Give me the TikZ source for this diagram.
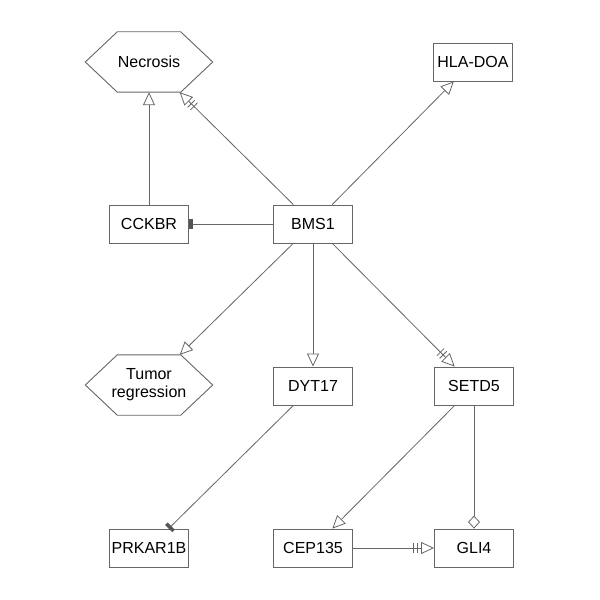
\documentclass[tikz,border=0pt]{standalone}
\usepackage{fontspec}
\setmainfont{Liberation Sans}
\usetikzlibrary{arrows.meta}
\definecolor{edgec}{HTML}{666666}
\definecolor{inhc}{HTML}{555555}
\begin{document}
\begin{tikzpicture}[x=1bp,y=-1bp,
 every node/.style={font=\fontsize{16bp}{18bp}\selectfont, text=black},
 box/.style={draw=edgec, line width=0.9bp, minimum width=79bp, minimum height=38bp, inner sep=0pt, fill=white},
 hexa/.style={minimum width=127bp, minimum height=60bp, inner sep=0pt, align=center},
 hexline/.style={draw=edgec, line width=0.9bp, fill=white},
 conn/.style={draw=edgec, line width=0.8bp},
 act/.style={conn, -{Triangle[open,length=13bp,width=12bp]}},
 dact/.style={conn, -{Bar[width=10bp,sep=3bp] Bar[width=10bp,sep=3bp] Triangle[open,length=13bp,width=12bp]}},
 inhib/.style={conn, -{Rectangle[length=3.5bp,width=10bp,fill=inhc,color=inhc]}},
 dia/.style={conn, -{Diamond[open,length=13bp,width=12bp]}}
]
\fill[white] (0,0) rectangle (600,600);
\useasboundingbox (0,0) rectangle (600,600);

\node[hexa] (nec) at (149,62) {};
\node[hexa] (tum) at (149,385) {};
\foreach \h in {nec,tum}{
  \draw[hexline] (\h.west) -- ([xshift=32bp]\h.north west) -- ([xshift=-32bp]\h.north east)
    -- (\h.east) -- ([xshift=-32bp]\h.south east) -- ([xshift=32bp]\h.south west) -- cycle;
}
\node[hexa] (necl) at (nec.center) {Necrosis};
\node[hexa] (tuml) at (tum.center) {Tumor\\regression};
\node[box] (hla) at (473,62) {HLA-DOA};
\node[box] (cck) at (149,224) {CCKBR};
\node[box] (bms) at (313,224) {BMS1};
\node[box] (dyt) at (313,386) {DYT17};
\node[box] (set) at (474,386) {SETD5};
\node[box] (prk) at (149,548) {PRKAR1B};
\node[box] (cep) at (313,548) {CEP135};
\node[box] (gli) at (474,548) {GLI4};

\draw[act] (cck) -- (nec);
\draw[dact] (bms) -- (nec);
\draw[act] (bms) -- (hla);
\draw[inhib] (bms) -- (cck);
\draw[act] (bms) -- (tum);
\draw[act] (bms) -- (dyt);
\draw[dact] (bms) -- (set);
\draw[inhib] (dyt) -- (prk);
\draw[act] (set) -- (cep);
\draw[dia] (set) -- (gli);
\draw[dact] (cep) -- (gli);
\end{tikzpicture}
\end{document}
